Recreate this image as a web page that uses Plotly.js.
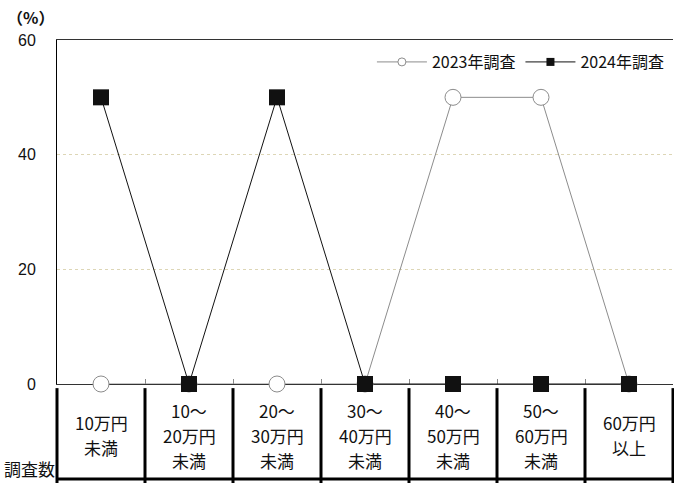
<!DOCTYPE html>
<html>
<head>
<meta charset="utf-8">
<script src="https://cdn.plot.ly/plotly-3.0.1.min.js"></script>
<style>
  body { margin: 0; background: #fff; }
  #chart { width: 674px; height: 483px; }
</style>
</head>
<body>
<div id="chart"></div>
<script>
// categories (income bands) and the lines of each table cell under the axis
var cats = ["c1", "c2", "c3", "c4", "c5", "c6", "c7"];
var cellLines = [
  ["10万円", "未満"],
  ["10～", "20万円", "未満"],
  ["20～", "30万円", "未満"],
  ["30～", "40万円", "未満"],
  ["40～", "50万円", "未満"],
  ["50～", "60万円", "未満"],
  ["60万円", "以上"]
];

// percentages
var y2023 = [0, 0, 0, 0, 50, 50, 0];
var y2024 = [50, 0, 50, 0, 0, 0, 0];

var yTicks = [0, 20, 40, 60];

var jp = "Noto Sans CJK JP, sans-serif";
var num = "Liberation Sans, Noto Sans CJK JP, sans-serif";
var grey = "#8c8c8c";

var traces = [{
  x: cats, y: y2023, name: "2023年調査", showlegend: false,
  type: "scatter", mode: "lines+markers", cliponaxis: false,
  line: {color: grey, width: 1},
  marker: {symbol: "circle", size: 16, color: "#fff", line: {color: grey, width: 1}}
}, {
  x: cats, y: y2024, name: "2024年調査", showlegend: false,
  type: "scatter", mode: "lines+markers", cliponaxis: false,
  line: {color: "#111", width: 1},
  marker: {symbol: "square", size: 16, color: "#111"}
}, {
  // legend entries with small symbols
  x: [null], y: [null], name: "2023年調査", type: "scatter", mode: "lines+markers",
  line: {color: grey, width: 1},
  marker: {symbol: "circle", size: 8, color: "#fff", line: {color: grey, width: 1}}
}, {
  x: [null], y: [null], name: "2024年調査", type: "scatter", mode: "lines+markers",
  line: {color: "#111", width: 1},
  marker: {symbol: "square", size: 8, color: "#111"}
}];

// table under the axis
var shapes = [];
var annotations = [];
for (var i = 0; i <= cats.length; i++) {
  shapes.push({type: "line", xref: "paper", yref: "paper",
    x0: i / cats.length, x1: i / cats.length, y0: -0.012, y1: -0.3,
    line: {color: "#000", width: 3}});
}
shapes.push({type: "line", xref: "paper", yref: "paper",
  x0: 0, x1: 1.01, y0: -0.276, y1: -0.276, line: {color: "#000", width: 3}});

cellLines.forEach(function (lines, i) {
  var n = lines.length;
  lines.forEach(function (t, k) {
    var yc = 435 + (k - (n - 1) / 2) * 25;
    annotations.push({x: cats[i], y: 0, xref: "x", yref: "paper",
      text: t, showarrow: false, yanchor: "middle", yshift: 384 - yc,
      font: {size: 17, color: "#111", family: jp}});
  });
});
annotations.push({x: 0, y: 0, xref: "paper", yref: "paper", text: "調査数",
  showarrow: false, xanchor: "right", yanchor: "middle", xshift: 0, yshift: -84,
  font: {size: 17, color: "#111", family: jp}});
annotations.push({x: 0, y: 1, xref: "paper", yref: "paper", text: "<b>（%）</b>",
  showarrow: false, xanchor: "left", yanchor: "middle", xshift: -52, yshift: 23,
  font: {size: 16, color: "#111", family: jp}});

var layout = {
  width: 674, height: 483,
  margin: {l: 57, r: 1, t: 40, b: 99},
  paper_bgcolor: "#fff", plot_bgcolor: "#fff",
  font: {family: jp, size: 16, color: "#111"},
  showlegend: true,
  legend: {orientation: "h", x: 0.995, xanchor: "right", y: 0.936, yanchor: "middle",
    bgcolor: "rgba(0,0,0,0)", font: {size: 16, family: jp}, itemwidth: 50},
  xaxis: {type: "category", range: [-0.5, 6.5], showticklabels: false,
    ticks: "inside", tickson: "boundaries", ticklen: 5, tickcolor: "#888",
    showline: true, linecolor: "#333", linewidth: 1, mirror: true,
    showgrid: false, zeroline: false, layer: "below traces"},
  yaxis: {range: [0, 60], tickvals: yTicks, ticks: "", ticklabelstandoff: 17,
    showline: true, linecolor: "#000", linewidth: 1,
    showgrid: true, gridcolor: "#ddd6b6", griddash: "dot", gridwidth: 1,
    zeroline: false, tickfont: {size: 16, color: "#111", family: num}, layer: "below traces"},
  shapes: shapes,
  annotations: annotations
};

Plotly.newPlot("chart", traces, layout, {displayModeBar: false, staticPlot: true});
</script>
</body>
</html>
